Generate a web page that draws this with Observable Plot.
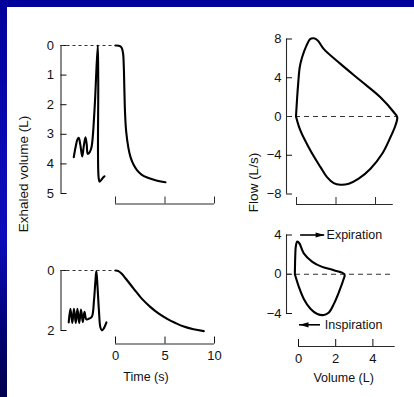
<!DOCTYPE html>
<html><head><meta charset="utf-8">
<script src="https://cdn.jsdelivr.net/npm/d3@7"></script>
<script src="https://cdn.jsdelivr.net/npm/@observablehq/plot@0.6"></script>
<style>
html,body{margin:0;padding:0;background:#fff;}
#chart{position:relative;width:414px;height:397px;background:#fff;overflow:hidden;}
#topbar{position:absolute;left:0;top:0;width:414px;height:7px;background:#00009a;}
#leftbar{position:absolute;left:0;top:0;width:7px;height:397px;background:linear-gradient(to bottom,#00009a 0%,#0a0ab4 40%,#0c0cba 60%,#000070 85%,#00004c 100%);}
</style></head>
<body><div id="chart"><div id="topbar"></div><div id="leftbar"></div></div>
<script>
// ---------- data ----------
const timeDomain = [-5.5, 10];          // s
const timeTicks = [0, 5, 10];
const tlVolDomain = [0, 5];             // exhaled volume (L)
const tlVolTicks = [0, 1, 2, 3, 4, 5];
const blVolDomain = [0, 2];
const blVolTicks = [0, 2];
const trFlowDomain = [-8, 8];           // L/s
const trFlowTicks = [-8, -4, 0, 4, 8];
const brFlowDomain = [-4, 4];
const brFlowTicks = [-4, 0, 4];
const trVolDomain = [-0.5, 5.5];        // L
const brVolDomain = [-0.65, 5.5];
const volTicks = [0, 2, 4];
const trVolAxis = [0, 4.9];
const brVolAxis = [0, 5.2];
const timeAxis = [0, 10];

// normal subject: volume-time [time s, exhaled volume L]
const tlTidal = [[-4.21,3.77],[-4.02,3.42],[-3.85,3.18],[-3.71,3.12],[-3.55,3.35],[-3.36,3.75],[-3.20,3.40],[-3.03,3.10],[-2.90,3.35],[-2.80,3.66],[-2.60,3.60],[-2.42,3.44],[-2.12,2.20],[-1.79,0.00],[-1.74,1.20],[-1.69,4.50],[-1.59,4.60],[-1.34,4.50],[-1.11,4.42]];
const tlForced = [[0,0],[0.35,0.01],[0.6,0.06],[0.76,0.25],[0.84,0.7],[0.9,1.5],[0.97,2.3],[1.08,2.9],[1.3,3.45],[1.52,3.77],[1.82,4.02],[2.19,4.22],[2.63,4.36],[3.2,4.46],[4.04,4.55],[5.05,4.62]];
// obstructed subject: volume-time
const blTidal = [[-4.72,1.73],[-4.55,1.28],[-4.36,1.75],[-4.19,1.28],[-4.01,1.75],[-3.84,1.28],[-3.66,1.75],[-3.48,1.30],[-3.30,1.72],[-3.13,1.38],[-2.93,1.63],[-2.63,1.60],[-2.37,1.53],[-2.17,1.00],[-2.02,0.33],[-1.93,0.02],[-1.82,0.50],[-1.67,1.33],[-1.52,1.90],[-1.36,2.00],[-1.16,1.92],[-0.91,1.73]];
const blForced = [[0,0],[0.30,0.02],[0.61,0.10],[1.11,0.30],[1.85,0.61],[2.63,0.93],[3.54,1.22],[4.34,1.43],[5.22,1.61],[6.06,1.75],[6.9,1.87],[7.88,1.96],[8.92,2.02]];
// flow-volume loops [volume L, flow L/s]
const trLoop = [[-0.02,0],[0.04,1.99],[0.09,3.37],[0.17,5.08],[0.29,6.11],[0.51,7.32],[0.71,8.01],[0.88,8.07],[1.08,7.84],[1.38,6.98],[2.23,5.43],[3.24,3.71],[4.25,1.99],[4.93,0.44],[5.10,-0.07],[5.01,-0.93],[4.76,-2.13],[4.34,-3.85],[3.75,-5.39],[3.15,-6.42],[2.65,-6.94],[2.23,-7.04],[1.89,-6.88],[1.55,-6.26],[1.22,-5.23],[0.71,-3.51],[0.20,-1.44],[-0.02,0]];
const brLoop = [[-0.20,0],[-0.18,1.78],[-0.15,2.81],[-0.07,3.33],[0.04,3.16],[0.28,2.13],[0.74,1.27],[1.27,0.75],[1.90,0.41],[2.47,0],[2.40,-0.62],[2.17,-1.82],[1.90,-3.02],[1.63,-3.89],[1.36,-4.15],[1.01,-4.05],[0.65,-3.54],[0.28,-2.51],[0.02,-1.31],[-0.20,0]];
// dashed zero lines
const tlBase = [{y: 0, from: -5.5, to: 0}];
const blBase = [{y: 0, from: -5.5, to: 0}];
const trBase = [{y: 0, from: -0.5, to: 5.05}];
const brBase = [{y: 0, from: -0.65, to: 5.05}];
// annotations
const brArrows = [
  {label: "Expiration", from: 0.11, to: 1.40, y: 4, dir: 1, text: 1.505},
  {label: "Inspiration", from: 1.18, to: 0.05, y: -5.15, dir: -1, text: 1.41}
];
const labels = {vol: "Exhaled volume (L)", flow: "Flow (L/s)", time: "Time (s)", volume: "Volume (L)"};

// ---------- drawing ----------
const W = 414, H = 397;
const FONT = '"Liberation Sans", Arial, Helvetica, sans-serif';
const AXIS = "#2a2a2a";
const TICKFS = 13;
const fmt = d3.format("d");
const chart = document.getElementById("chart");
function add(opts) {
  const svg = Plot.plot({
    width: W, height: H, ...opts,
    style: {position: "absolute", left: "0px", top: "0px", background: "transparent",
            overflow: "visible", fontFamily: FONT, fontSize: "12.5px", color: "#111"}
  });
  chart.appendChild(svg);
}
const curve = (data) => Plot.line(data, {x: d => d[0], y: d => d[1], curve: "catmull-rom", stroke: "#000", strokeWidth: 2.1});
const base = (data, dash) => Plot.ruleY(data, {y: d => d.y, x1: d => d.from, x2: d => d.to, stroke: "#333", strokeWidth: 1.2, strokeDasharray: dash});

// top-left: volume-time (normal)
add({
  marginLeft: 60.5, marginRight: 200, marginTop: 45, marginBottom: 204,
  x: {domain: timeDomain, axis: null},
  y: {domain: tlVolDomain, reverse: true},
  marks: [
    Plot.ruleX([timeDomain[0]], {stroke: AXIS, strokeWidth: 1.1}),
    Plot.axisY({ticks: tlVolTicks, tickSize: -6, tickPadding: 13, label: null, tickFormat: fmt, color: "#111", fontSize: TICKFS}),
    base(tlBase, "3,3"),
    curve(tlTidal),
    curve(tlForced),
    Plot.text([labels.vol], {frameAnchor: "left", textAnchor: "middle", lineAnchor: "middle", rotate: -90, dx: -37.5, dy: 54.5, fontSize: 13.5})
  ]
});
// top-left time bracket
add({
  marginLeft: 115, marginRight: 200, marginTop: 0, marginBottom: 193.5,
  x: {domain: timeAxis},
  y: {domain: [0, 1], axis: null},
  marks: [
    Plot.ruleY([0], {stroke: AXIS, strokeWidth: 1.1}),
    Plot.axisX({ticks: timeTicks, tickSize: -7, tickFormat: () => "", label: null, color: AXIS})
  ]
});
// bottom-left: volume-time (obstructed)
add({
  marginLeft: 60.5, marginRight: 200, marginTop: 270, marginBottom: 67,
  x: {domain: timeDomain, axis: null},
  y: {domain: blVolDomain, reverse: true},
  marks: [
    Plot.ruleX([timeDomain[0]], {stroke: AXIS, strokeWidth: 1.1}),
    Plot.axisY({ticks: blVolTicks, tickSize: -6, tickPadding: 12.5, label: null, tickFormat: fmt, color: "#111", fontSize: TICKFS}),
    base(blBase, "3,3"),
    curve(blTidal),
    curve(blForced)
  ]
});
// bottom-left time axis
add({
  marginLeft: 115, marginRight: 200, marginTop: 0, marginBottom: 53.5,
  x: {domain: timeAxis},
  y: {domain: [0, 1], axis: null},
  marks: [
    Plot.ruleY([0], {stroke: AXIS, strokeWidth: 1.1}),
    Plot.axisX({ticks: timeTicks, tickSize: -7, tickPadding: 14, tickFormat: fmt, label: null, color: "#111", fontSize: TICKFS}),
    Plot.text([labels.time], {frameAnchor: "bottom", textAnchor: "middle", lineAnchor: "middle", dx: -19, dy: 32.5, fontSize: 12.5})
  ]
});
// top-right: flow-volume (normal)
add({
  marginLeft: 286, marginRight: 9.4, marginTop: 38.5, marginBottom: 203.5,
  x: {domain: trVolDomain, axis: null},
  y: {domain: trFlowDomain},
  marks: [
    Plot.ruleX([trVolDomain[0]], {stroke: AXIS, strokeWidth: 1.1}),
    Plot.axisY({ticks: trFlowTicks, tickSize: -6, tickPadding: 11, label: null, tickFormat: fmt, color: "#111", fontSize: TICKFS}),
    base(trBase, "5,4"),
    curve(trLoop),
    Plot.text([labels.flow], {frameAnchor: "left", textAnchor: "middle", lineAnchor: "middle", rotate: -90, dx: -33, dy: 66, fontSize: 13.5})
  ]
});
// top-right volume bracket
add({
  marginLeft: 296, marginRight: 21.2, marginTop: 0, marginBottom: 193,
  x: {domain: trVolAxis},
  y: {domain: [0, 1], axis: null},
  marks: [
    Plot.ruleY([0], {stroke: AXIS, strokeWidth: 1.1}),
    Plot.axisX({ticks: volTicks, tickSize: -7, tickFormat: () => "", label: null, color: AXIS})
  ]
});
// bottom-right: flow-volume (obstructed)
add({
  marginLeft: 286, marginRight: 13.7, marginTop: 234.5, marginBottom: 84,
  x: {domain: brVolDomain, axis: null},
  y: {domain: brFlowDomain},
  marks: [
    Plot.ruleX([brVolDomain[0]], {stroke: AXIS, strokeWidth: 1.1}),
    Plot.axisY({ticks: brFlowTicks, tickSize: -6, tickPadding: 11, label: null, tickFormat: fmt, color: "#111", fontSize: TICKFS}),
    base(brBase, "5,4"),
    curve(brLoop),
    Plot.ruleY(brArrows, {y: "y", x1: "from", x2: "to", stroke: "#000", strokeWidth: 1.6}),
    Plot.dot(brArrows, {x: "to", y: "y", r: 4, rotate: d => d.dir > 0 ? 90 : -90, fill: "#000", stroke: "none",
      symbol: {draw(ctx) { ctx.moveTo(0, 0); ctx.lineTo(-2.6, 9); ctx.lineTo(2.6, 9); ctx.closePath(); }}}),
    Plot.text(brArrows, {x: "text", y: "y", text: "label", textAnchor: "start", fontSize: 12.5})
  ]
});
// bottom-right volume axis
add({
  marginLeft: 298, marginRight: 19.3, marginTop: 0, marginBottom: 51,
  x: {domain: brVolAxis},
  y: {domain: [0, 1], axis: null},
  marks: [
    Plot.ruleY([0], {stroke: AXIS, strokeWidth: 1.1}),
    Plot.axisX({ticks: volTicks, tickSize: -7, tickPadding: 14, tickFormat: fmt, label: null, color: "#111", fontSize: TICKFS}),
    Plot.text([labels.volume], {frameAnchor: "bottom", textAnchor: "middle", lineAnchor: "middle", dx: -3.2, dy: 31, fontSize: 12.5})
  ]
});
</script>
</body></html>
